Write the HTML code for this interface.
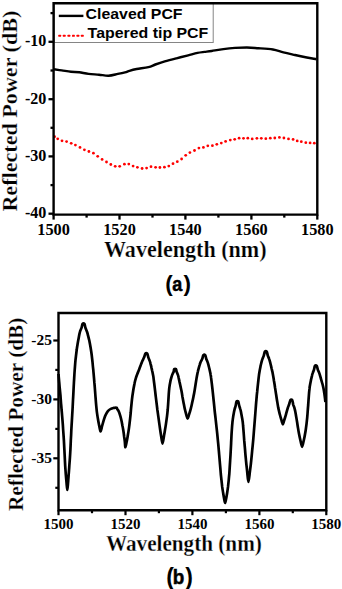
<!DOCTYPE html>
<html><head><meta charset="utf-8"><style>
html,body{margin:0;padding:0;background:#fff;}
svg{display:block;}
.serif{font-family:"Liberation Serif",serif;font-weight:bold;}
.title{stroke:#fff;stroke-width:0.25px;}
.tick{font-family:"Liberation Serif",serif;font-weight:bold;}
.sans{font-family:"Liberation Sans",sans-serif;font-weight:bold;}
</style></head><body>
<svg width="342" height="589" viewBox="0 0 342 589">
<rect x="0" y="0" width="342" height="589" fill="#fff"/>
<g fill="none" stroke="#000" stroke-width="2.3"><line x1="48.5" y1="41.8" x2="53.6" y2="41.8"/><line x1="48.5" y1="99.2" x2="53.6" y2="99.2"/><line x1="48.5" y1="156.4" x2="53.6" y2="156.4"/><line x1="48.5" y1="213.7" x2="53.6" y2="213.7"/><line x1="50.5" y1="13.1" x2="53.6" y2="13.1"/><line x1="50.5" y1="70.5" x2="53.6" y2="70.5"/><line x1="50.5" y1="127.8" x2="53.6" y2="127.8"/><line x1="50.5" y1="185.1" x2="53.6" y2="185.1"/><line x1="53.6" y1="214.6" x2="53.6" y2="219.6"/><line x1="86.6" y1="214.6" x2="86.6" y2="217.6"/><line x1="119.5" y1="214.6" x2="119.5" y2="219.6"/><line x1="152.5" y1="214.6" x2="152.5" y2="217.6"/><line x1="185.4" y1="214.6" x2="185.4" y2="219.6"/><line x1="218.4" y1="214.6" x2="218.4" y2="217.6"/><line x1="251.4" y1="214.6" x2="251.4" y2="219.6"/><line x1="284.3" y1="214.6" x2="284.3" y2="217.6"/><line x1="317.3" y1="214.6" x2="317.3" y2="219.6"/></g>
<g fill="#f00"><circle cx="54.6" cy="136.7" r="1.40"/><circle cx="57.7" cy="138.8" r="1.40"/><circle cx="62.0" cy="140.8" r="1.40"/><circle cx="66.6" cy="141.6" r="1.40"/><circle cx="71.2" cy="143.3" r="1.40"/><circle cx="75.4" cy="145.1" r="1.40"/><circle cx="80.0" cy="147.4" r="1.40"/><circle cx="84.4" cy="149.8" r="1.40"/><circle cx="88.9" cy="151.5" r="1.40"/><circle cx="93.4" cy="153.2" r="1.40"/><circle cx="97.7" cy="156.3" r="1.40"/><circle cx="102.1" cy="159.4" r="1.40"/><circle cx="106.5" cy="162.0" r="1.40"/><circle cx="110.8" cy="164.5" r="1.40"/><circle cx="115.2" cy="166.3" r="1.40"/><circle cx="119.7" cy="166.3" r="1.40"/><circle cx="124.4" cy="164.2" r="1.40"/><circle cx="128.8" cy="164.1" r="1.40"/><circle cx="133.1" cy="166.1" r="1.40"/><circle cx="137.4" cy="167.3" r="1.40"/><circle cx="142.1" cy="168.5" r="1.40"/><circle cx="146.6" cy="168.1" r="1.40"/><circle cx="151.0" cy="166.7" r="1.40"/><circle cx="155.6" cy="167.3" r="1.40"/><circle cx="159.9" cy="167.5" r="1.40"/><circle cx="164.4" cy="167.2" r="1.40"/><circle cx="168.8" cy="166.1" r="1.40"/><circle cx="173.0" cy="163.7" r="1.40"/><circle cx="177.3" cy="161.7" r="1.40"/><circle cx="181.6" cy="159.0" r="1.40"/><circle cx="185.7" cy="155.3" r="1.40"/><circle cx="189.9" cy="152.6" r="1.40"/><circle cx="194.5" cy="150.5" r="1.40"/><circle cx="198.9" cy="148.1" r="1.40"/><circle cx="203.4" cy="147.4" r="1.40"/><circle cx="207.8" cy="145.8" r="1.40"/><circle cx="212.4" cy="145.7" r="1.40"/><circle cx="216.8" cy="144.3" r="1.40"/><circle cx="221.3" cy="143.1" r="1.40"/><circle cx="225.6" cy="141.4" r="1.40"/><circle cx="230.3" cy="140.1" r="1.40"/><circle cx="234.7" cy="139.3" r="1.40"/><circle cx="239.1" cy="138.2" r="1.40"/><circle cx="243.5" cy="138.3" r="1.40"/><circle cx="247.8" cy="138.2" r="1.40"/><circle cx="252.2" cy="138.9" r="1.40"/><circle cx="256.9" cy="138.3" r="1.40"/><circle cx="261.3" cy="138.3" r="1.40"/><circle cx="265.8" cy="138.7" r="1.40"/><circle cx="270.3" cy="138.2" r="1.40"/><circle cx="274.8" cy="138.0" r="1.40"/><circle cx="279.4" cy="137.4" r="1.40"/><circle cx="283.9" cy="138.0" r="1.40"/><circle cx="288.5" cy="138.9" r="1.40"/><circle cx="293.1" cy="139.4" r="1.40"/><circle cx="297.2" cy="140.9" r="1.40"/><circle cx="301.3" cy="141.7" r="1.40"/><circle cx="305.8" cy="142.7" r="1.40"/><circle cx="310.1" cy="142.9" r="1.40"/><circle cx="314.3" cy="143.2" r="1.40"/></g>
<path d="M54.0,69.3 C55.3,69.5 58.9,70.0 61.7,70.4 C64.5,70.8 68.1,71.5 71.0,71.8 C73.9,72.1 76.3,71.8 79.2,72.2 C82.1,72.6 85.3,73.5 88.6,73.9 C91.9,74.3 95.7,74.4 99.0,74.7 C102.3,75.0 105.4,75.8 108.5,75.7 C111.6,75.6 115.0,74.5 117.8,73.9 C120.5,73.4 123.0,72.9 125.0,72.4 C127.0,71.9 127.5,71.4 129.5,70.8 C131.4,70.2 133.5,69.6 136.7,69.0 C139.8,68.4 145.3,68.0 148.4,67.2 C151.5,66.5 152.7,65.5 155.4,64.5 C158.1,63.5 161.3,62.4 164.8,61.4 C168.3,60.4 172.6,59.3 176.5,58.3 C180.4,57.3 184.7,56.2 188.2,55.3 C191.7,54.4 194.8,53.5 197.5,52.9 C200.2,52.3 202.1,52.2 204.5,51.9 C206.9,51.6 208.5,51.5 211.7,51.0 C214.8,50.5 219.5,49.6 223.4,49.1 C227.3,48.6 231.1,48.2 235.0,47.9 C238.9,47.6 242.9,47.5 246.8,47.5 C250.7,47.5 254.2,47.9 258.5,48.2 C262.9,48.5 268.8,48.8 272.9,49.5 C277.0,50.2 279.7,51.4 283.4,52.3 C287.1,53.2 291.1,54.1 295.0,55.0 C298.9,55.9 303.2,56.8 306.8,57.5 C310.4,58.2 314.9,58.9 316.5,59.2" fill="none" stroke="#000" stroke-width="2.4" stroke-linejoin="round"/>
<rect x="54.3" y="3" width="158.9" height="39.5" fill="#fff" stroke="#858585" stroke-width="1"/>
<line x1="58.8" y1="15.9" x2="83.4" y2="15.9" stroke="#000" stroke-width="2.4"/>
<g fill="#f00"><rect x="58.30" y="34.85" width="2.8" height="2.0" rx="0.5"/><rect x="62.80" y="34.85" width="2.8" height="2.0" rx="0.5"/><rect x="67.50" y="34.85" width="2.8" height="2.0" rx="0.5"/><rect x="72.00" y="34.85" width="2.8" height="2.0" rx="0.5"/><rect x="76.50" y="34.85" width="2.8" height="2.0" rx="0.5"/><rect x="80.90" y="34.85" width="2.8" height="2.0" rx="0.5"/></g>
<text class="sans" transform="translate(85.6,18.7) scale(1.037,1)" font-size="15.3" fill="#000">Cleaved PCF</text>
<text class="sans" transform="translate(87.6,38.3) scale(1.04,1)" font-size="15.3" fill="#000">Tapered tip PCF</text>
<path d="M53.60,3.25 H317.30 V214.60 H53.60 Z" fill="none" stroke="#000" stroke-width="2.4"/>
<g class="tick" font-size="16.1" fill="#000" text-anchor="end"><text x="46.4" y="46.1">-10</text><text x="46.4" y="103.5">-20</text><text x="46.4" y="160.7">-30</text><text x="46.4" y="218.0">-40</text></g>
<g class="tick" font-size="16.3" fill="#000" text-anchor="middle"><text x="53.6" y="234.8">1500</text><text x="119.5" y="234.8">1520</text><text x="185.4" y="234.8">1540</text><text x="251.4" y="234.8">1560</text><text x="317.3" y="234.8">1580</text></g>
<text class="serif title" transform="translate(104.0,257.3) scale(0.978,1)" font-size="22.6" fill="#000">Wavelength (nm)</text>
<text class="serif title" transform="translate(16.7,211.6) rotate(-90) scale(1.006,1)" font-size="22" fill="#000">Reflected Power (dB)</text>
<g class="sans" fill="#000"><text x="165.3" y="291.2" font-size="22.5">(</text><text x="183.5" y="291.2" font-size="22.5">)</text><text transform="translate(172.2,291.1) scale(0.9,1)" font-size="20" stroke="#000" stroke-width="0.5">a</text></g>

<path d="M58.5,374.0 C58.6,375.2 58.9,378.7 59.1,381.0 C59.3,383.3 59.5,385.5 59.7,388.0 C60.0,390.5 60.2,393.3 60.5,396.0 C60.7,398.7 60.9,401.7 61.1,404.0 C61.3,406.3 61.4,407.3 61.6,410.0 C61.9,412.7 62.2,417.0 62.5,420.4 C62.8,423.8 63.0,427.1 63.2,430.5 C63.5,433.9 63.7,437.4 63.9,440.7 C64.1,443.9 64.2,447.1 64.4,450.0 C64.5,452.9 64.7,455.3 64.8,458.0 C64.9,460.7 65.1,463.5 65.2,466.0 C65.4,468.5 65.5,470.5 65.7,473.0 C65.9,475.5 66.1,478.2 66.4,481.0 C66.7,483.8 67.0,490.0 67.3,490.0 C67.6,490.0 67.9,483.8 68.2,481.0 C68.4,478.2 68.6,475.5 68.8,473.0 C69.0,470.5 69.2,468.5 69.3,466.0 C69.5,463.5 69.7,460.7 69.9,458.0 C70.1,455.3 70.2,452.9 70.4,450.0 C70.5,447.1 70.7,443.9 70.8,440.7 C71.0,437.4 71.2,433.9 71.3,430.5 C71.5,427.1 71.7,423.8 71.9,420.4 C72.1,417.0 72.3,413.4 72.5,410.0 C72.7,406.6 72.8,404.5 73.0,400.0 C73.3,395.5 73.6,388.0 73.9,383.0 C74.2,378.0 74.4,373.8 74.7,370.0 C75.0,366.2 75.2,363.3 75.5,360.0 C75.9,356.7 76.4,352.2 76.7,350.0 C76.9,347.8 76.9,348.6 77.1,347.0 C77.4,345.4 77.8,342.6 78.2,340.5 C78.6,338.4 79.1,335.7 79.4,334.1 C79.8,332.5 79.9,332.1 80.2,331.0 C80.6,329.9 81.2,328.8 81.6,327.6 C82.0,326.4 82.1,324.6 82.6,323.9 C83.1,323.3 83.9,323.3 84.4,323.9 C84.9,324.6 85.0,326.4 85.4,327.6 C85.7,328.8 86.3,329.9 86.7,331.0 C87.1,332.1 87.3,332.5 87.7,334.1 C88.1,335.7 88.8,338.4 89.3,340.5 C89.7,342.6 90.1,344.6 90.5,347.0 C90.9,349.4 91.4,352.5 91.7,355.0 C92.0,357.5 92.2,359.5 92.5,362.0 C92.7,364.5 92.9,366.5 93.3,370.0 C93.6,373.5 94.1,378.6 94.4,382.9 C94.8,387.1 95.1,391.6 95.4,395.5 C95.7,399.4 96.0,403.5 96.3,406.4 C96.6,409.3 96.7,410.8 97.0,412.9 C97.3,415.0 97.6,417.2 98.0,419.3 C98.3,421.4 98.8,423.7 99.2,425.7 C99.7,427.7 100.1,431.3 100.6,431.4 C101.1,431.4 101.6,427.8 102.1,426.0 C102.6,424.2 103.1,422.4 103.6,420.7 C104.1,419.0 104.6,417.2 105.3,415.6 C106.1,414.0 107.0,412.2 107.9,411.1 C108.8,410.0 109.8,409.4 110.8,408.9 C111.8,408.4 113.3,408.1 114.0,407.9 C114.7,407.7 114.4,407.8 114.9,407.8 C115.4,407.7 116.4,407.6 116.7,407.8 C117.0,407.9 116.6,407.9 116.9,408.5 C117.2,409.1 118.0,409.9 118.6,411.1 C119.1,412.3 119.7,414.0 120.2,415.6 C120.7,417.2 121.1,419.0 121.5,420.7 C121.9,422.4 122.2,424.3 122.5,426.0 C122.9,427.7 123.1,429.2 123.4,431.0 C123.7,432.8 124.0,435.3 124.2,437.0 C124.5,438.7 124.6,439.6 124.8,441.3 C125.0,443.0 125.1,447.3 125.4,447.2 C125.7,447.1 126.4,442.8 126.9,440.7 C127.3,438.6 127.7,436.4 128.0,434.3 C128.4,432.2 128.7,430.0 129.0,427.9 C129.3,425.8 129.5,423.9 129.8,421.4 C130.1,418.9 130.4,415.7 130.7,413.0 C130.9,410.3 131.1,407.8 131.4,405.0 C131.7,402.2 131.9,399.6 132.4,396.0 C132.9,392.4 133.8,386.8 134.5,383.6 C135.1,380.4 135.7,378.6 136.2,377.0 C136.7,375.4 137.0,374.8 137.4,373.7 C137.8,372.6 138.3,371.6 138.7,370.5 C139.1,369.4 139.5,368.4 139.9,367.3 C140.3,366.2 140.7,365.2 141.1,364.1 C141.6,363.0 142.0,362.0 142.4,360.9 C142.9,359.8 143.5,358.8 144.0,357.6 C144.5,356.4 144.9,354.3 145.4,353.6 C145.9,353.0 146.7,353.0 147.2,353.6 C147.7,354.3 148.0,356.4 148.4,357.6 C148.8,358.8 149.3,359.8 149.7,360.9 C150.1,362.0 150.4,363.0 150.6,364.1 C150.9,365.2 151.2,366.2 151.4,367.3 C151.7,368.4 151.9,369.4 152.1,370.5 C152.4,371.6 152.6,372.6 152.8,373.7 C153.0,374.8 153.1,375.0 153.4,376.9 C153.6,378.8 154.0,381.8 154.4,385.0 C154.8,388.2 155.3,392.7 155.7,396.0 C156.1,399.3 156.5,402.7 156.8,405.0 C157.1,407.3 157.2,408.1 157.4,410.0 C157.7,411.9 158.0,414.2 158.3,416.4 C158.6,418.5 158.9,420.8 159.2,422.9 C159.5,425.0 159.8,427.2 160.1,429.3 C160.4,431.4 160.7,433.3 161.1,435.7 C161.5,438.1 162.0,443.6 162.5,443.6 C163.0,443.6 163.6,438.1 164.0,435.7 C164.5,433.3 164.8,431.4 165.1,429.3 C165.5,427.2 165.8,425.0 166.1,422.9 C166.4,420.8 166.7,418.5 167.0,416.4 C167.3,414.2 167.4,412.7 167.7,410.0 C167.9,407.3 168.2,403.2 168.4,400.0 C168.6,396.8 168.8,392.9 169.0,390.9 C169.2,388.8 169.2,388.8 169.3,387.7 C169.5,386.6 169.6,385.6 169.8,384.5 C170.0,383.4 170.2,382.4 170.4,381.3 C170.6,380.2 170.9,379.2 171.2,378.1 C171.5,377.0 171.8,376.0 172.2,374.9 C172.6,373.8 173.3,372.5 173.7,371.6 C174.0,370.7 173.8,369.6 174.2,369.2 C174.6,368.9 175.6,368.9 176.0,369.2 C176.4,369.6 176.2,370.7 176.6,371.6 C176.9,372.5 177.5,373.8 177.9,374.9 C178.3,376.0 178.5,377.0 178.7,378.1 C179.0,379.2 179.2,380.2 179.4,381.3 C179.7,382.4 179.9,383.4 180.1,384.5 C180.3,385.6 180.6,386.7 180.8,387.7 C181.0,388.7 181.1,389.1 181.4,390.5 C181.7,391.9 182.1,394.3 182.4,396.4 C182.8,398.5 183.2,400.8 183.6,402.9 C184.0,405.0 184.4,407.4 184.9,409.3 C185.3,411.2 185.8,412.8 186.2,414.4 C186.7,415.9 187.1,418.6 187.6,418.6 C188.1,418.6 188.6,415.9 189.1,414.4 C189.6,412.8 190.1,411.2 190.6,409.3 C191.1,407.4 191.7,405.0 192.1,402.9 C192.6,400.8 193.1,398.5 193.5,396.4 C194.0,394.2 194.2,393.1 194.7,390.0 C195.2,386.9 196.2,380.4 196.6,377.9 C197.1,375.3 197.0,375.8 197.2,374.7 C197.4,373.6 197.6,372.6 197.9,371.5 C198.1,370.4 198.4,369.4 198.7,368.3 C199.0,367.2 199.2,366.2 199.6,365.1 C199.9,364.0 200.3,363.0 200.7,361.9 C201.2,360.8 201.9,359.7 202.3,358.6 C202.8,357.5 202.9,355.8 203.4,355.2 C203.9,354.7 204.7,354.7 205.2,355.2 C205.7,355.8 205.8,357.5 206.2,358.6 C206.5,359.7 207.1,360.8 207.5,361.9 C207.9,363.0 208.2,364.0 208.5,365.1 C208.8,366.2 209.0,367.2 209.3,368.3 C209.5,369.4 209.8,370.4 210.0,371.5 C210.2,372.6 210.5,373.6 210.6,374.7 C210.8,375.8 210.9,375.6 211.1,377.9 C211.4,380.2 212.0,384.9 212.4,388.6 C212.8,392.3 213.2,396.4 213.6,400.0 C214.0,403.6 214.3,407.0 214.6,410.0 C214.9,413.0 215.1,414.4 215.5,417.9 C215.9,421.3 216.4,426.4 216.9,430.7 C217.4,435.0 217.8,439.6 218.2,443.6 C218.6,447.7 218.9,451.6 219.2,455.0 C219.5,458.4 219.7,461.1 220.0,464.3 C220.3,467.5 220.6,471.3 220.8,474.0 C221.1,476.7 221.2,478.2 221.5,480.4 C221.7,482.5 222.0,484.8 222.2,486.9 C222.5,489.0 222.9,491.4 223.2,493.3 C223.5,495.2 223.8,496.8 224.1,498.4 C224.4,500.0 224.8,502.9 225.1,502.9 C225.4,502.9 225.8,500.0 226.2,498.4 C226.5,496.8 226.8,495.2 227.1,493.3 C227.4,491.4 227.7,489.0 228.0,486.9 C228.2,484.8 228.5,482.5 228.7,480.4 C228.9,478.2 229.0,476.7 229.3,474.0 C229.5,471.3 229.7,467.5 229.9,464.3 C230.1,461.1 230.3,458.4 230.5,455.0 C230.7,451.6 230.9,446.9 231.1,443.6 C231.2,440.3 231.4,438.1 231.5,435.0 C231.7,431.9 232.0,427.1 232.2,424.9 C232.4,422.7 232.4,422.8 232.5,421.7 C232.6,420.6 232.8,419.6 232.9,418.5 C233.1,417.4 233.2,416.4 233.4,415.3 C233.6,414.2 233.8,413.2 234.0,412.1 C234.2,411.0 234.4,410.0 234.7,408.9 C235.0,407.8 235.4,406.8 235.7,405.6 C236.0,404.4 236.1,402.3 236.5,401.6 C236.9,401.0 237.9,401.0 238.3,401.6 C238.7,402.3 238.8,404.4 239.2,405.6 C239.5,406.8 239.9,407.8 240.2,408.9 C240.6,410.0 240.8,411.0 241.0,412.1 C241.2,413.2 241.4,414.2 241.6,415.3 C241.8,416.4 242.0,417.4 242.2,418.5 C242.4,419.6 242.5,420.4 242.7,421.7 C242.8,422.9 243.0,424.3 243.1,426.0 C243.3,427.7 243.4,429.6 243.6,432.0 C243.8,434.4 244.0,437.1 244.2,440.2 C244.5,443.3 244.8,447.0 245.1,450.4 C245.3,453.8 245.7,457.2 246.0,460.6 C246.3,464.0 246.7,467.2 247.1,470.8 C247.5,474.4 247.9,482.0 248.4,482.0 C248.9,482.0 249.5,474.4 250.0,470.8 C250.5,467.2 250.9,464.0 251.2,460.6 C251.6,457.2 251.9,453.8 252.2,450.4 C252.6,447.0 252.9,443.6 253.2,440.2 C253.5,436.8 253.7,434.2 254.0,430.0 C254.4,425.8 254.8,420.0 255.2,415.0 C255.6,410.0 256.0,403.9 256.4,400.0 C256.7,396.1 256.8,394.7 257.2,391.5 C257.5,388.3 258.0,383.8 258.3,381.0 C258.6,378.2 258.8,376.4 259.0,374.9 C259.2,373.3 259.3,372.8 259.5,371.7 C259.7,370.6 259.9,369.6 260.1,368.5 C260.3,367.4 260.5,366.4 260.7,365.3 C261.0,364.2 261.2,363.2 261.5,362.1 C261.8,361.0 262.1,360.0 262.5,358.9 C262.9,357.8 263.4,356.8 263.8,355.6 C264.2,354.4 264.4,352.3 264.9,351.6 C265.4,351.0 266.2,351.0 266.7,351.6 C267.2,352.3 267.4,354.4 267.8,355.6 C268.2,356.8 268.8,357.8 269.1,358.9 C269.5,360.0 269.8,361.0 270.1,362.1 C270.4,363.2 270.6,364.2 270.9,365.3 C271.2,366.4 271.4,367.4 271.6,368.5 C271.9,369.6 272.1,370.6 272.4,371.7 C272.6,372.8 272.7,373.3 273.0,374.9 C273.3,376.4 273.7,378.8 274.0,381.0 C274.4,383.2 274.8,385.7 275.1,388.0 C275.5,390.3 275.8,392.8 276.2,395.0 C276.5,397.2 276.8,399.2 277.2,401.4 C277.5,403.5 277.9,405.8 278.3,407.9 C278.8,410.0 279.2,412.2 279.8,414.3 C280.3,416.4 281.1,419.0 281.6,420.7 C282.1,422.4 282.5,424.3 282.9,424.3 C283.3,424.3 283.6,422.4 284.1,420.7 C284.6,419.0 285.4,416.4 286.0,414.3 C286.6,412.2 287.3,409.5 287.8,407.9 C288.3,406.3 288.6,405.9 289.1,404.6 C289.5,403.3 289.9,400.9 290.4,400.1 C290.9,399.4 291.7,399.4 292.2,400.1 C292.7,400.9 292.9,403.3 293.2,404.6 C293.6,405.9 294.1,406.8 294.4,407.9 C294.7,409.0 294.9,409.9 295.2,411.1 C295.4,412.3 295.6,413.3 295.9,415.0 C296.2,416.7 296.6,419.2 297.0,421.4 C297.3,423.5 297.6,425.8 298.0,427.9 C298.3,430.0 298.7,432.2 299.1,434.3 C299.5,436.4 300.0,438.6 300.5,440.7 C301.0,442.8 301.6,446.8 302.1,446.8 C302.6,446.8 303.2,442.8 303.7,440.7 C304.2,438.6 304.7,436.4 305.0,434.3 C305.4,432.2 305.8,430.0 306.0,427.9 C306.3,425.8 306.6,423.7 306.8,421.4 C307.1,419.1 307.3,416.7 307.5,414.0 C307.7,411.3 307.9,408.2 308.2,405.0 C308.4,401.8 308.7,397.7 308.9,395.0 C309.1,392.3 309.3,390.4 309.5,388.9 C309.6,387.3 309.7,386.8 309.9,385.7 C310.1,384.6 310.3,383.6 310.5,382.5 C310.7,381.4 310.9,380.4 311.1,379.3 C311.4,378.2 311.6,377.2 311.9,376.1 C312.1,375.0 312.4,374.0 312.8,372.9 C313.1,371.8 313.7,370.8 314.0,369.6 C314.4,368.4 314.5,366.6 314.9,365.9 C315.3,365.3 316.2,365.3 316.7,365.9 C317.2,366.6 317.4,368.4 317.8,369.6 C318.2,370.8 318.8,371.8 319.2,372.9 C319.6,374.0 319.9,375.0 320.2,376.1 C320.5,377.2 320.8,378.2 321.1,379.3 C321.4,380.4 321.7,381.4 322.0,382.5 C322.3,383.6 322.6,384.4 322.9,385.7 C323.2,386.9 323.5,388.3 323.8,390.0 C324.1,391.7 324.4,394.0 324.7,396.0 C325.0,398.0 325.3,401.0 325.4,402.0" fill="none" stroke="#000" stroke-width="2.7" stroke-linejoin="round"/>
<g fill="none" stroke="#000" stroke-width="2.2"><line x1="53.3" y1="340.5" x2="58.5" y2="340.5"/><line x1="53.3" y1="399.4" x2="58.5" y2="399.4"/><line x1="53.3" y1="458.3" x2="58.5" y2="458.3"/><line x1="55.3" y1="369.9" x2="58.5" y2="369.9"/><line x1="55.3" y1="428.9" x2="58.5" y2="428.9"/><line x1="55.3" y1="487.8" x2="58.5" y2="487.8"/><line x1="58.5" y1="510.2" x2="58.5" y2="515.2"/><line x1="92.0" y1="510.2" x2="92.0" y2="513.2"/><line x1="125.5" y1="510.2" x2="125.5" y2="515.2"/><line x1="158.9" y1="510.2" x2="158.9" y2="513.2"/><line x1="192.4" y1="510.2" x2="192.4" y2="515.2"/><line x1="225.9" y1="510.2" x2="225.9" y2="513.2"/><line x1="259.4" y1="510.2" x2="259.4" y2="515.2"/><line x1="292.8" y1="510.2" x2="292.8" y2="513.2"/><line x1="326.3" y1="510.2" x2="326.3" y2="515.2"/></g>
<path d="M58.50,313.00 H326.30 V510.20 H58.50 Z" fill="none" stroke="#000" stroke-width="2.4"/>
<g class="tick" font-size="15.4" fill="#000" text-anchor="end"><text x="51.9" y="344.7">-25</text><text x="51.9" y="403.6">-30</text><text x="51.9" y="462.5">-35</text></g>
<g class="tick" font-size="15.0" fill="#000" text-anchor="middle"><text x="58.5" y="529.1">1500</text><text x="125.5" y="529.1">1520</text><text x="192.4" y="529.1">1540</text><text x="259.4" y="529.1">1560</text><text x="326.3" y="529.1">1580</text></g>
<text class="serif title" transform="translate(106.0,550.7) scale(0.95,1)" font-size="22.3" fill="#000">Wavelength (nm)</text>
<text class="serif title" transform="translate(22.8,511) rotate(-90) scale(1.004,1.0)" font-size="21.2" fill="#000">Reflected Power (dB)</text>
<g class="sans" fill="#000"><text x="166.2" y="584.5" font-size="23">(</text><text x="185.2" y="584.5" font-size="23">)</text><text transform="translate(172.8,584.3) scale(0.9,1)" font-size="21" stroke="#000" stroke-width="0.5">b</text></g>
</svg>
</body></html>
